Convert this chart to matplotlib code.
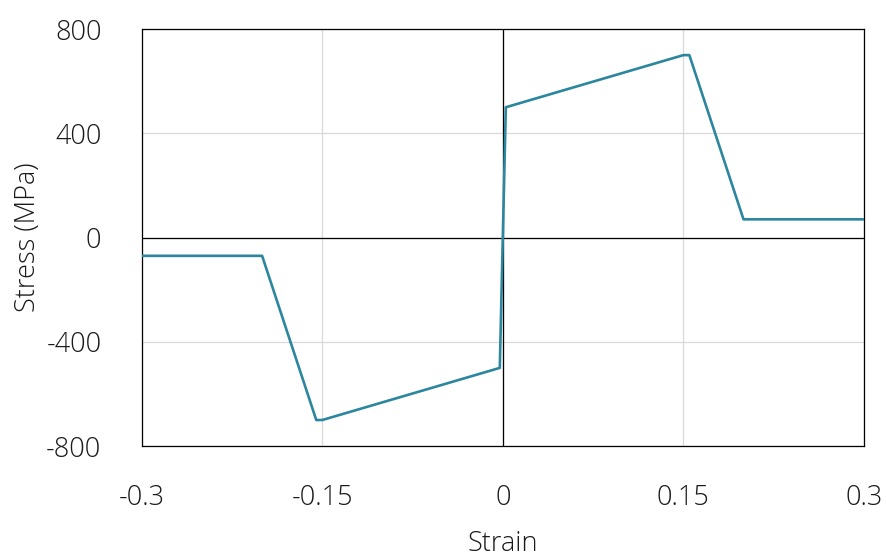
import matplotlib
matplotlib.use("Agg")
import matplotlib.pyplot as plt

# stress-strain curve
strain = [-0.3, -0.2, -0.155, -0.15, -0.0025, 0.0025, 0.15, 0.155, 0.2, 0.3]
stress = [-70, -70, -700, -700, -500, 500, 700, 700, 70, 70]

xticks = [-0.3, -0.15, 0, 0.15, 0.3]
xticklabels = ["-0.3", "-0.15", "0", "0.15", "0.3"]
yticks = [-800, -400, 0, 400, 800]
yticklabels = ["-800", "-400", "0", "400", "800"]

plt.rcParams['font.family'] = ['Open Sans', 'DejaVu Sans']
plt.rcParams['font.weight'] = 'light'

fig = plt.figure(figsize=(8.86, 5.59), dpi=100)
ax = fig.add_axes([0.160, 0.202, 0.815, 0.746])

ax.plot(strain, stress, color='#2b869e', lw=1.9, zorder=3)
ax.axhline(0, color='black', lw=0.9, zorder=2)
ax.axvline(0, color='black', lw=0.9, zorder=2)

ax.set_xlim(-0.3, 0.3)
ax.set_ylim(-800, 800)
ax.set_xticks(xticks)
ax.set_xticklabels(xticklabels, fontweight='light')
ax.set_yticks(yticks)
ax.set_yticklabels(yticklabels, fontweight='light')
ax.grid(True, color='#d9d9d9', lw=0.9, zorder=1)
ax.tick_params(length=0, labelsize=19.5, colors='#1a1a1a')
ax.tick_params(axis='x', pad=27)
ax.tick_params(axis='y', pad=29)
for s in ax.spines.values():
    s.set_color('black')
    s.set_linewidth(0.9)

ax.set_xlabel("Strain", fontsize=19.5, fontweight='light', color='#1a1a1a', labelpad=13)
ax.set_ylabel("Stress (MPa)", fontsize=19.5, fontweight='light', color='#1a1a1a', labelpad=3)

fig.savefig("out.png", dpi=100)
